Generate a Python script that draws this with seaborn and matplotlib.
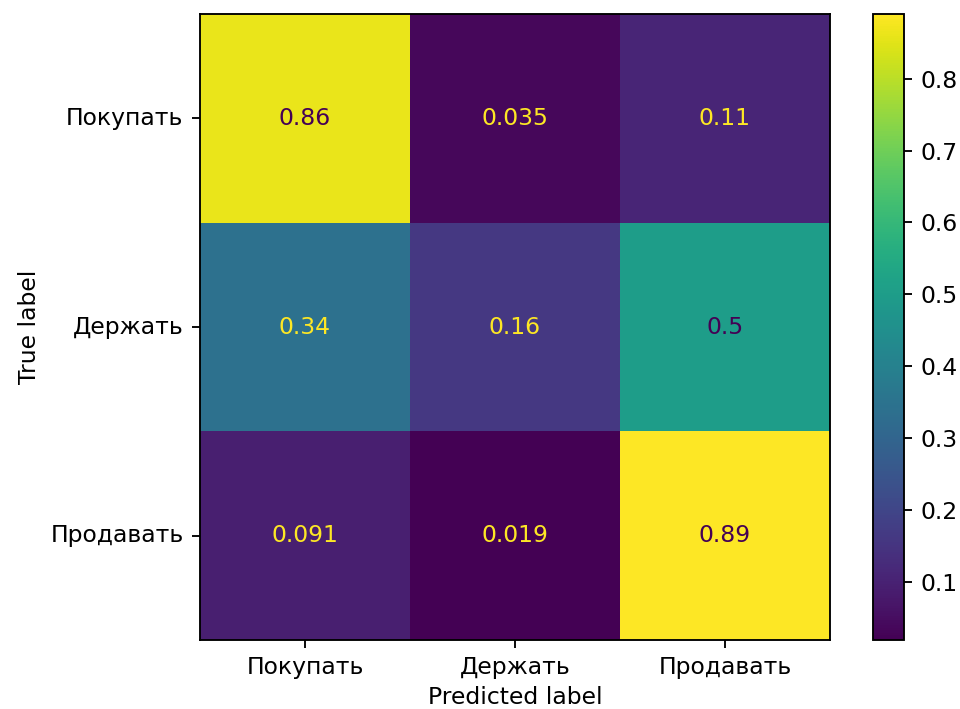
import numpy as np
import pandas as pd
import matplotlib
matplotlib.use("Agg")
import matplotlib.pyplot as plt
import seaborn as sns

# class names and normalized confusion matrix values
labels = ["Покупать", "Держать", "Продавать"]
row_buy = [0.86, 0.035, 0.11]
row_hold = [0.34, 0.16, 0.5]
row_sell = [0.091, 0.019, 0.89]

cm = pd.DataFrame([row_buy, row_hold, row_sell], index=labels, columns=labels)

# reference looks like an upscaled default figure, so scale everything a bit
k = 1.127
plt.rcParams.update({
    "font.size": 10 * k,
    "axes.linewidth": 0.8 * k,
    "xtick.major.size": 3.5 * k,
    "ytick.major.size": 3.5 * k,
    "xtick.major.width": 0.8 * k,
    "ytick.major.width": 0.8 * k,
    "xtick.major.pad": 3.5 * k,
    "ytick.major.pad": 3.5 * k,
    "axes.labelpad": 4.0 * k,
})

fig = plt.figure(figsize=(6.4, 4.727), dpi=150)
ax = fig.add_axes([0.2083, 0.0973, 0.65625, 0.8829])
cax = fig.add_axes([0.9094, 0.0973, 0.0323, 0.8829])

cmap = plt.get_cmap("viridis")
sns.heatmap(cm, annot=True, fmt=".2g", cmap=cmap, ax=ax, cbar_ax=cax,
            annot_kws={"fontsize": 10 * k})

# text colours like sklearn: dark text on bright cells, yellow on dark
vals = cm.values
thresh = (vals.max() + vals.min()) / 2.0
for txt, v in zip(ax.texts, vals.flatten()):
    txt.set_color(cmap(0.0) if v >= thresh else cmap(1.0))

for s in ax.spines.values():
    s.set_visible(True)
    s.set_linewidth(0.8 * k)
cbar = ax.collections[0].colorbar
cbar.outline.set_visible(True)
cbar.outline.set_linewidth(0.8 * k)
cbar.set_ticks([0.1, 0.2, 0.3, 0.4, 0.5, 0.6, 0.7, 0.8])
cbar.ax.tick_params(labelsize=10 * k, length=3.5 * k, width=0.8 * k)

ax.set_xlabel("Predicted label", labelpad=3.0)
ax.set_ylabel("True label")
ax.tick_params(axis="y", rotation=0)
ax.tick_params(axis="x", rotation=0)

fig.savefig("out.png", dpi=150)
